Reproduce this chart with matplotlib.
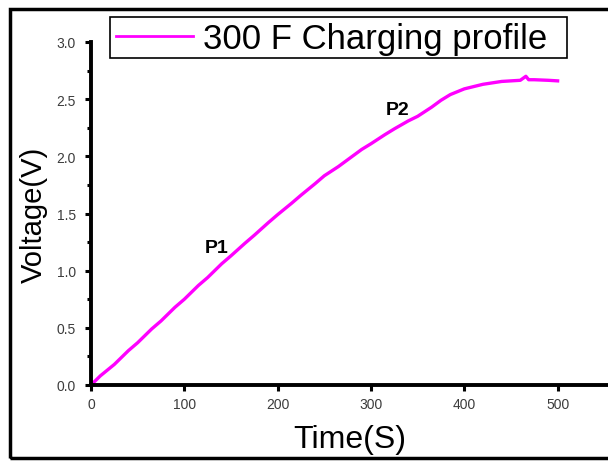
import matplotlib
matplotlib.use("Agg")
import matplotlib.pyplot as plt
from matplotlib.patches import Rectangle
from matplotlib.ticker import MultipleLocator

plt.rcParams['font.family'] = ['Liberation Sans', 'DejaVu Sans']

# charging profile (time in s, voltage in V)
time_s = [0, 10, 25, 40, 50, 65, 75, 90, 100, 115, 125, 140, 150, 165, 175,
          190, 200, 215, 225, 240, 250, 265, 275, 290, 300, 315, 325, 340,
          350, 365, 375, 385, 400, 410, 420, 440, 450, 460, 466, 469, 475,
          490, 500]
voltage = [0.0, 0.08, 0.18, 0.30, 0.37, 0.49, 0.56, 0.68, 0.75, 0.87, 0.94,
           1.06, 1.13, 1.24, 1.31, 1.42, 1.49, 1.59, 1.66, 1.76, 1.83, 1.91,
           1.97, 2.06, 2.11, 2.19, 2.24, 2.31, 2.35, 2.43, 2.49, 2.54, 2.59,
           2.61, 2.63, 2.655, 2.66, 2.665, 2.70, 2.67, 2.67, 2.665, 2.66]

annotations = [("P1", 135, 1.20), ("P2", 329, 2.41)]

fig = plt.figure(figsize=(6.08, 4.64), dpi=100)
ax = fig.add_axes([91 / 608, 78 / 464, 1 - 91 / 608, 343 / 464])

ax.plot(time_s, voltage, color="#ff00ff", lw=2.4, label="300 F Charging profile")

for text, x, y in annotations:
    ax.text(x, y, text, fontsize=14, fontweight="bold", ha="center", va="center")

ax.set_xlim(0, 554)
ax.set_ylim(0, 3.0)
ax.xaxis.set_major_locator(MultipleLocator(100))
ax.yaxis.set_major_locator(MultipleLocator(0.5))
ax.yaxis.set_minor_locator(MultipleLocator(0.25))
ax.yaxis.set_major_formatter(lambda v, p: f"{v:.1f}")

for side in ["top", "right"]:
    ax.spines[side].set_visible(False)
for side in ["left", "bottom"]:
    ax.spines[side].set_linewidth(2.8)

ax.tick_params(which="major", direction="out", length=4, width=2.2,
               labelsize=10, labelcolor="#3c3c3c")
ax.tick_params(axis="y", which="major", pad=7)
ax.tick_params(axis="x", which="major", pad=5)
ax.tick_params(which="minor", direction="out", length=3, width=2.2)

ax.set_xlabel("Time(S)", fontsize=23, labelpad=9)
ax.set_ylabel("Voltage(V)", fontsize=21, labelpad=6)

# legend drawn without its own frame; the box is placed as in the reference
leg = ax.legend(loc="upper left", bbox_to_anchor=(113 / 608, 1 - 20 / 464),
                bbox_transform=fig.transFigure, fontsize=25, frameon=False,
                handlelength=2.2, borderpad=0.1, handletextpad=0.3,
                borderaxespad=0)
leg.get_lines()[0].set_linewidth(2)
fig.patches.append(Rectangle((110 / 608, 1 - 59 / 464), 457 / 608, 41 / 464,
                             transform=fig.transFigure, fill=False,
                             edgecolor="black", lw=1.2))

# outer frame around the whole figure
fig.patches.append(Rectangle((10 / 608, 5 / 464), 0.99, 449 / 464,
                             transform=fig.transFigure, fill=False,
                             edgecolor="black", lw=2.5))

fig.savefig("out.png", dpi=100)
